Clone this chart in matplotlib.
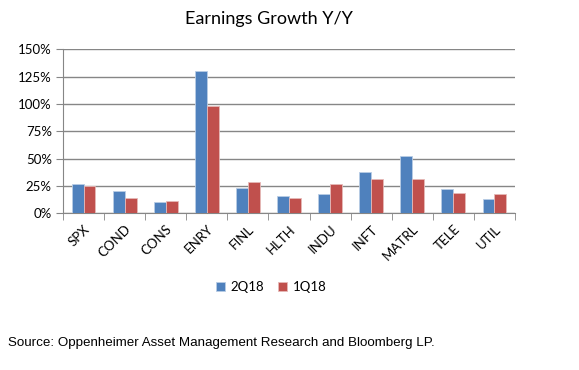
import matplotlib
matplotlib.use("Agg")
import matplotlib.pyplot as plt
import numpy as np
from matplotlib.ticker import FuncFormatter
from matplotlib import font_manager

categories = ["SPX", "COND", "CONS", "ENRY", "FINL", "HLTH", "INDU", "INFT", "MATRL", "TELE", "UTIL"]
q2_18 = [26.5, 20.4, 10.7, 129.9, 23.5, 15.9, 17.7, 37.5, 52.4, 22.6, 12.8]
q1_18 = [24.7, 13.7, 11.6, 98.2, 28.4, 14.3, 26.8, 31.4, 31.4, 18.6, 17.7]
yticks = [0, 25, 50, 75, 100, 125, 150]

plt.rcParams['font.family'] = ['Lato', 'DejaVu Sans']

fig = plt.figure(figsize=(5.79, 3.70), dpi=100)
ax = fig.add_axes([63/579, 1-213.3/370, (515-63)/579, (213.3-49.3)/370])

x = np.arange(len(categories))
w = 0.29
blue = "#4F81BD"
red = "#C0504D"
ax.bar(x - w/2, q2_18, w, color=blue, edgecolor="#B9CDE5", linewidth=0.6, label="2Q18", zorder=3)
ax.bar(x + w/2, q1_18, w, color=red, edgecolor="#E6B9B8", linewidth=0.6, label="1Q18", zorder=3)

ax.set_xlim(-0.5, len(categories) - 0.5)
ax.set_ylim(0, 150)
ax.set_yticks(yticks)
ax.yaxis.set_major_formatter(FuncFormatter(lambda v, p: f"{int(v)}%"))
ax.grid(axis="y", color="#868686", linewidth=1.0, zorder=0)
ax.set_axisbelow(True)

for s in ["top", "right"]:
    ax.spines[s].set_visible(False)
ax.spines["left"].set_color("#868686")
ax.spines["bottom"].set_color("#868686")

ax.set_xticks(x)
ax.set_xticklabels(categories, rotation=45, ha="right", rotation_mode="anchor", fontsize=9.5)
ax.tick_params(axis="x", length=0, pad=7)
ax.set_xticks(np.arange(-0.5, len(categories)), minor=True)
ax.tick_params(axis="x", which="minor", length=5, color="#868686", direction="out")
ax.tick_params(axis="y", length=5, color="#868686", labelsize=9.5, pad=3)

fig.text(269/579, 1-19/370, "Earnings Growth Y/Y", ha="center", va="center", fontsize=13)

leg = fig.legend(loc="center", bbox_to_anchor=(271/579, 1-287/370), ncol=2, frameon=False,
                 fontsize=9.5, handlelength=0.75, handleheight=0.75, handletextpad=0.4, columnspacing=1.0)

names = {f.name for f in font_manager.fontManager.ttflist}
src_family = ["Liberation Sans Narrow"] if "Liberation Sans Narrow" in names else ["Liberation Sans"]
src = fig.text(8/579, 1-343/370, "Source: Oppenheimer Asset Management Research and Bloomberg LP.",
               ha="left", va="center", fontsize=12, family=src_family + ["DejaVu Sans"])
fig.canvas.draw()
bb = src.get_window_extent()
src.set_fontsize(12 * 427 / bb.width)

fig.savefig("out.png", dpi=100)
